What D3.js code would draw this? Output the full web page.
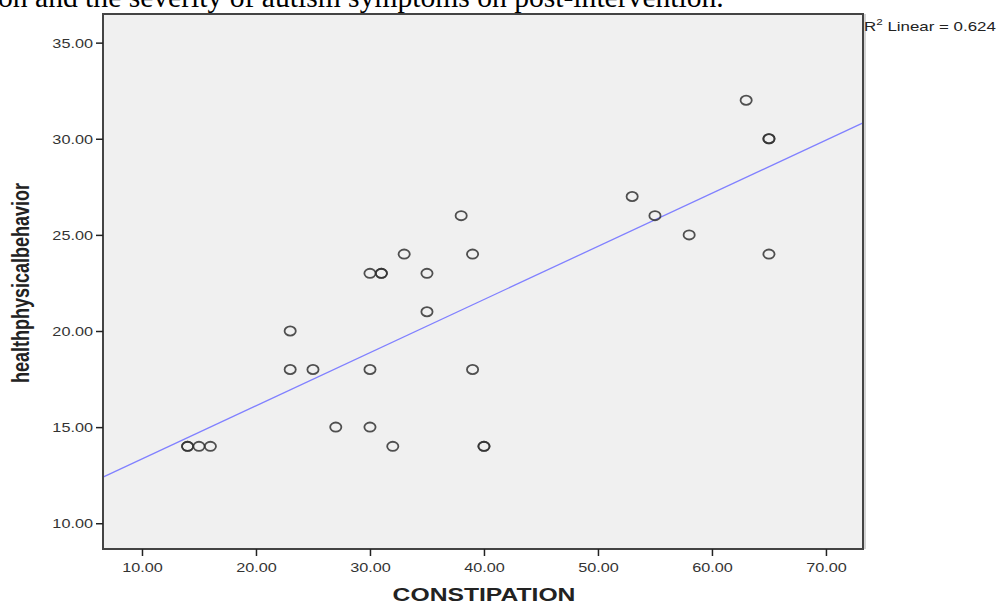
<!DOCTYPE html>
<html lang="en">
<head>
<meta charset="UTF-8">
<title>Scatter</title>
<style>
    body { margin: 0; background: #fff; }
    .tick text { font-family: "Liberation Sans", Arial, sans-serif; font-size: 12.5px; fill: #333; }
    .tick line { stroke: #222; stroke-width: 1.5; }
</style>
</head>
<body>
<script src="https://cdn.jsdelivr.net/npm/d3@7/dist/d3.min.js"></script>
<script>
// data (duplicates drawn twice)
let constipation = [14, 14, 15, 16, 23, 23, 25, 27, 30, 30, 30, 31, 31, 32, 33, 35, 35, 38, 39, 39, 40, 40, 53, 55, 58, 63, 65, 65, 65];
let behavior     = [14, 14, 14, 14, 20, 18, 18, 15, 23, 18, 15, 23, 23, 14, 24, 23, 21, 26, 24, 18, 14, 14, 27, 26, 25, 32, 30, 30, 24];
let xTicks = [10, 20, 30, 40, 50, 60, 70];
let yTicks = [10, 15, 20, 25, 30, 35];
let fitLabel = 'Linear = 0.624';

let width = 1002, height = 604;
let plotL = 103, plotR = 863, plotT = 14, plotB = 549;
// the original graphic is stretched sideways
let stretch = 'scale(1.3, 1)';

let svg = d3.select('body').append('svg')
    .attr('width', width)
    .attr('height', height);

let x = d3.scaleLinear().domain([6.58, 73.25]).range([plotL, plotR]);
let y = d3.scaleLinear().domain([8.66, 36.49]).range([plotB, plotT]);

// cut-off caption at the top
svg.append('text')
    .attr('x', -2).attr('y', 7)
    .style('font-family', '"Liberation Serif", "Times New Roman", serif')
    .style('font-size', '29.6px')
    .text('on and the severity of autism symptoms on post-intervention.');

svg.append('rect')
    .attr('x', plotL).attr('y', plotT)
    .attr('width', plotR - plotL).attr('height', plotB - plotT)
    .attr('fill', '#f0f0f0');

// least squares line from the data
let mx = d3.mean(constipation), my = d3.mean(behavior);
let sxy = d3.sum(constipation, (v, i) => (v - mx) * (behavior[i] - my));
let sxx = d3.sum(constipation, v => (v - mx) * (v - mx));
let slope = sxy / sxx, icpt = my - slope * mx;
let xd = x.domain();

svg.append('line')
    .attr('x1', x(xd[0])).attr('y1', y(icpt + slope * xd[0]))
    .attr('x2', x(xd[1])).attr('y2', y(icpt + slope * xd[1]))
    .attr('stroke', '#8080ff')
    .attr('stroke-width', 1.3);

svg.selectAll('.pt')
    .data(constipation)
    .enter()
    .append('ellipse')
    .attr('class', 'pt')
    .attr('cx', d => x(d))
    .attr('cy', (d, i) => y(behavior[i]))
    .attr('rx', 5.6)
    .attr('ry', 4.6)
    .attr('fill', 'none')
    .attr('stroke', '#333')
    .attr('stroke-opacity', 0.85)
    .attr('stroke-width', 1.8);

// frame
svg.append('rect')
    .attr('x', plotL).attr('y', plotT)
    .attr('width', plotR - plotL).attr('height', plotB - plotT)
    .attr('fill', 'none')
    .attr('stroke', '#444')
    .attr('stroke-width', 2);
svg.append('line')
    .attr('x1', plotR + 2).attr('x2', plotR + 2)
    .attr('y1', plotT).attr('y2', plotB)
    .attr('stroke', '#aaa').attr('stroke-width', 1);

let xAxis = svg.append('g')
    .attr('transform', `translate(0, ${plotB})`)
    .call(d3.axisBottom(x).tickValues(xTicks).tickFormat(d3.format('.2f')).tickSize(7).tickPadding(7));
xAxis.select('.domain').remove();
xAxis.selectAll('.tick text').attr('transform', stretch);

let yAxis = svg.append('g')
    .attr('transform', `translate(${plotL}, 0)`)
    .call(d3.axisLeft(y).tickValues(yTicks).tickFormat(d3.format('.2f')).tickSize(7).tickPadding(3));
yAxis.select('.domain').remove();
yAxis.selectAll('.tick text')
    .attr('x', 0)
    .attr('dy', '0.36em')
    .attr('transform', `translate(-10, 0) ${stretch}`);

svg.append('text')
    .attr('transform', `translate(484, 601) ${stretch}`)
    .attr('text-anchor', 'middle')
    .style('font-family', '"Liberation Sans", Arial, sans-serif')
    .style('font-size', '19px')
    .style('font-weight', 'bold')
    .style('fill', '#222')
    .text('CONSTIPATION');

svg.append('text')
    .attr('transform', `translate(29, 283) ${stretch} rotate(-90)`)
    .attr('text-anchor', 'middle')
    .style('font-family', '"Liberation Sans", Arial, sans-serif')
    .style('font-size', '18px')
    .style('font-weight', 'bold')
    .style('fill', '#222')
    .text('healthphysicalbehavior');

let r2 = svg.append('text')
    .attr('transform', `translate(864, 31) ${stretch}`)
    .style('font-family', '"Liberation Sans", Arial, sans-serif')
    .style('font-size', '13px')
    .style('fill', '#222');
r2.append('tspan').text('R');
r2.append('tspan').attr('dy', -6).style('font-size', '9px').text('2');
r2.append('tspan').attr('dy', 6).text(' ' + fitLabel);
</script>
</body>
</html>
